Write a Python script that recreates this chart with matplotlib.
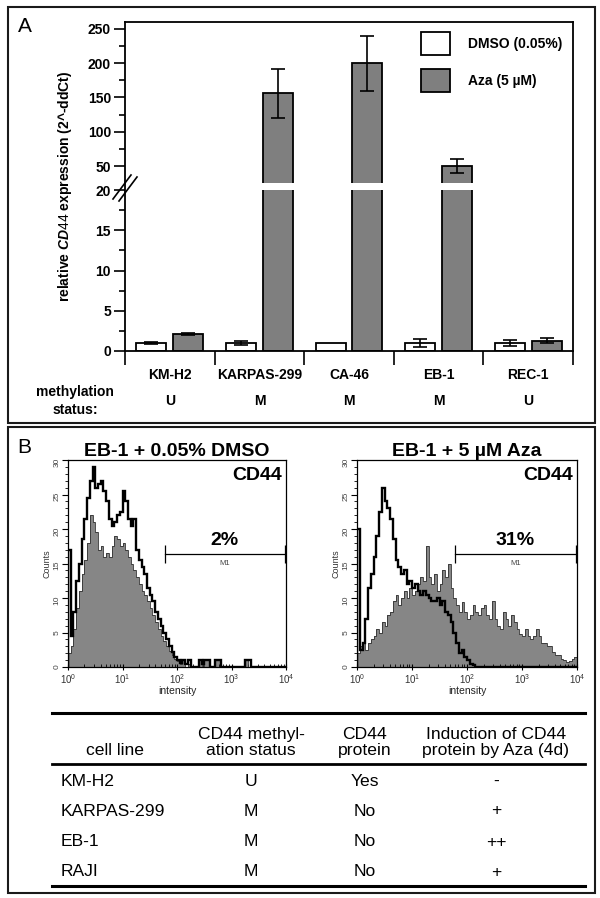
import numpy as np
import matplotlib
matplotlib.use('Agg')
import matplotlib.pyplot as plt
from matplotlib.patches import Rectangle
from matplotlib.lines import Line2D
import matplotlib.transforms as mtransforms

plt.rcParams['font.family'] = ['Liberation Sans', 'DejaVu Sans']
plt.rcParams['mathtext.fontset'] = 'custom'
plt.rcParams['mathtext.rm'] = 'Liberation Sans'
plt.rcParams['mathtext.it'] = 'Liberation Sans:italic:bold'
plt.rcParams['mathtext.bf'] = 'Liberation Sans:bold'

# ---------------- Panel A data ----------------
cell_lines = ['KM-H2', 'KARPAS-299', 'CA-46', 'EB-1', 'REC-1']
methylation = ['U', 'M', 'M', 'M', 'U']
dmso_vals = [1.0, 1.0, 1.0, 1.0, 1.0]
dmso_err = [0.08, 0.2, 0.0, 0.5, 0.4]
aza_vals = [2.1, 156, 200, 50, 1.3]
aza_err = [0.15, 36, 40, 10, 0.3]
series_labels = ['DMSO (0.05%)', 'Aza (5 µM)']
y_major = [0, 5, 10, 15, 20, 50, 100, 150, 200, 250]
y_minor = [2.5, 7.5, 12.5, 17.5, 75, 125, 175, 225]

# ---------------- Panel B data (flow cytometry histograms) ----------------
# counts per channel group, 20 groups per decade from 10^0 to 10^4
dmso_stained = [2, 3, 5.5, 8.5, 11, 13.5, 15.5, 18, 22, 21,
                19.5, 17, 17.5, 16, 16.5, 16, 17.5, 19, 18.5, 17.5,
                18, 17, 16, 15, 14, 13, 12, 11, 10.5, 9.5,
                8.5, 7.5, 6.5, 5.5, 4.5, 3.8, 3, 2.3, 1.7, 1.2,
                0.8, 0.5, 1, 0, 0.5, 0, 0, 0, 1, 0,
                1, 1, 0, 0, 1, 1, 0, 0, 0, 0,
                0, 0, 0, 0, 0, 1, 0, 0, 0, 0,
                0, 0, 0, 0, 0, 0, 0, 0, 0, 0]
dmso_control = [17, 4.5, 8, 12.5, 15, 18.5, 21.5, 24.5, 27, 29,
                26, 26.5, 27, 25.5, 24, 21.5, 20.5, 21, 22, 22.5,
                25.5, 24, 21.5, 20.5, 21.5, 17, 15.5, 14.5, 13.5, 11.5,
                10.5, 9.5, 8, 7, 6, 5, 4, 3, 2.2, 1.5,
                1, 0.6, 1, 0.5, 1, 0, 0, 0, 1, 0.5,
                1, 1, 0, 0, 1, 1, 0, 0, 0, 0,
                0, 0, 0, 0, 0, 1, 1, 0, 0, 0,
                0, 0, 0, 0, 0, 0, 0, 0, 0, 0]
aza_stained = [2, 3, 3.5, 2.5, 3.5, 4, 4.5, 5.5, 5, 6.5,
               6, 7.5, 8, 9.5, 10.5, 9, 10, 11, 10, 11.5,
               10.5, 11, 12, 13, 12.5, 17.5, 13, 12, 13.5, 11,
               12, 14, 13, 15, 11.5, 10, 9, 8, 9.4, 8,
               7, 7.5, 9, 8, 7.5, 8.5, 9, 7.5, 7, 9.5,
               7, 6, 5.5, 8, 7, 6, 7.5, 6.5, 5.5, 4.8,
               4.5, 5.5, 4.5, 4, 4.5, 5.5, 4.5, 3.5, 3.5, 3,
               3, 2.2, 1.8, 1.8, 1.2, 1, 0.7, 0.8, 1.2, 1.5]
aza_control = [20, 2.5, 3.5, 7, 11.5, 13.5, 16, 19, 22.5, 26,
               24, 23, 21.5, 18.5, 15.5, 14.5, 13.5, 14, 12, 12.5,
               11.5, 12, 11, 10.5, 11, 10.5, 10, 9.5, 9.5, 10,
               9, 9.5, 8, 7.5, 6.5, 5, 3.5, 2, 2.5, 1.5,
               1, 0.5, 0.3, 0, 0, 0, 0, 0, 0, 0,
               0, 0, 0, 0, 0, 0, 0, 0, 0, 0,
               0, 0, 0, 0, 0, 0, 0, 0, 0, 0,
               0, 0, 0, 0, 0, 0, 0, 0, 0, 0]
hist_titles = ['EB-1 + 0.05% DMSO', 'EB-1 + 5 µM Aza']
m1_gate = [60, 9500]
m1_percent = ['2%', '31%']

# ---------------- Table data ----------------
tab_header = ['cell line', 'CD44 methyl-\nation status', 'CD44\nprotein',
              'Induction of CD44\nprotein by Aza (4d)']
tab_cells = ['KM-H2', 'KARPAS-299', 'EB-1', 'RAJI']
tab_meth = ['U', 'M', 'M', 'M']
tab_protein = ['Yes', 'No', 'No', 'No']
tab_induction = ['-', '+', '++', '+']

# ---------------- figure ----------------
W, H = 600, 898
fig = plt.figure(figsize=(W / 100, H / 100), dpi=100)


def fx(x):
    return x / W


def fy(y):
    return 1 - y / H


def px_rect(x0, y0, x1, y1):
    return [x0 / W, 1 - y1 / H, (x1 - x0) / W, (y1 - y0) / H]


for (x0, y0, x1, y1) in [(8, 7, 595, 423), (8, 427, 595, 893)]:
    fig.add_artist(Rectangle((fx(x0), fy(y1)), (x1 - x0) / W, (y1 - y0) / H,
                             transform=fig.transFigure, fill=False, lw=1.5,
                             ec='#1a1a1a'))

fig.text(fx(25), fy(27), 'A', fontsize=15, ha='center', va='center')
fig.text(fx(24), fy(447), 'B', fontsize=15, ha='center', va='center')

# ---------------- Panel A ----------------
axA = fig.add_axes(px_rect(125, 22, 573, 351))

_bx = np.array([-1000., 0., 20., 25., 10000.])
_bu = np.array([-1000., 0., 20., 20.85, 20.85 + (10000 - 25) * 0.0853])


def fwd(v):
    return np.interp(v, _bx, _bu)


def inv(u):
    return np.interp(u, _bu, _bx)


axA.set_yscale('function', functions=(fwd, inv))
axA.set_ylim(0, 260)
axA.set_xlim(-0.5, len(cell_lines) - 0.5)

x = np.arange(len(cell_lines))
bw, off = 0.335, 0.206
axA.bar(x - off, dmso_vals, bw, color='white', edgecolor='black', lw=1.3,
        zorder=2, label=series_labels[0])
axA.bar(x + off, aza_vals, bw, color='#7f7f7f', edgecolor='black', lw=1.3,
        zorder=2, label=series_labels[1])
for xs, vals, errs in [(x - off, dmso_vals, dmso_err), (x + off, aza_vals, aza_err)]:
    errs = np.asarray(errs)
    m = errs > 0
    axA.errorbar(np.asarray(xs)[m], np.asarray(vals)[m], yerr=errs[m], fmt='none',
                 ecolor='black', elinewidth=1.2, capsize=5, capthick=1.2, zorder=3)

# axis break band across bars
axA.axhspan(20, 25, color='white', zorder=2.2, lw=0)

axA.set_yticks(y_major)
axA.set_yticklabels([str(t) for t in y_major], fontweight='bold', fontsize=10)
axA.set_yticks(y_minor, minor=True)
axA.tick_params(axis='y', which='major', length=8, width=1.2, direction='out', pad=2)
axA.tick_params(axis='y', which='minor', length=4.5, width=1.2, direction='out')

axA.set_xticks(np.arange(-0.5, len(cell_lines), 1.0))
axA.set_xticklabels([])
axA.set_xticks(x, minor=True)
axA.set_xticklabels(cell_lines, minor=True, fontweight='bold', fontsize=10)
axA.tick_params(axis='x', which='major', length=10, width=1.2, direction='out')
axA.tick_params(axis='x', which='minor', length=0, pad=12)
for s in axA.spines.values():
    s.set_linewidth(1.3)

axA.set_ylabel(r'relative $\mathit{CD44}$ expression (2^-ddCt)', fontweight='bold',
               fontsize=10)
axA.yaxis.set_label_coords((74 - 125) / 448, 0.5)

leg = axA.legend(loc='upper left', bbox_to_anchor=((420.7 - 125) / 448, (351 - 32) / 329),
                 frameon=False, prop=dict(weight='bold', size=10),
                 handlelength=2.1, handleheight=2.17, handletextpad=1.3,
                 labelspacing=1.03, borderpad=0, borderaxespad=0)

# break marks on the y axis
for (xa, ya, xb, yb) in [(113, 199, 131, 175), (119, 201, 137, 177)]:
    fig.add_artist(Line2D([fx(xa), fx(xb)], [fy(ya), fy(yb)], lw=1.2, color='black',
                          transform=fig.transFigure))

fig.text(fx(75), fy(392), 'methylation', fontweight='bold', fontsize=10,
         ha='center', va='center')
fig.text(fx(75), fy(410), 'status:', fontweight='bold', fontsize=10,
         ha='center', va='center')
trA = mtransforms.blended_transform_factory(axA.transData, fig.transFigure)
for xi, m in zip(x, methylation):
    axA.text(xi, fy(401), m, transform=trA, ha='center', va='center',
             fontweight='bold', fontsize=10)

# ---------------- Panel B histograms ----------------
edges = np.logspace(0, 4, len(dmso_stained) + 1)
hist_axes = [fig.add_axes(px_rect(68, 460, 286, 667)),
             fig.add_axes(px_rect(357, 460, 577, 667))]
for ax, stained, control, title, pct in zip(hist_axes, [dmso_stained, aza_stained],
                                            [dmso_control, aza_control], hist_titles,
                                            m1_percent):
    ax.stairs(stained, edges, fill=True, color='#868686', zorder=1)
    ax.stairs(stained, edges, color='#303030', lw=0.6, zorder=2)
    ax.stairs(control, edges, color='black', lw=1.7, zorder=3)
    ax.set_xscale('log')
    ax.set_xlim(1, 1e4)
    ax.set_ylim(0, 30)
    ax.set_yticks(np.arange(0, 31, 5))
    ax.set_yticks(np.arange(0, 31, 1), minor=True)
    ax.tick_params(axis='y', which='major', length=4, width=0.8, labelsize=6,
                   labelcolor='#444444', labelrotation=90, pad=1.5)
    ax.tick_params(axis='y', which='minor', length=2, width=0.6)
    ax.tick_params(axis='x', which='major', length=4, width=0.8, labelsize=7,
                   labelcolor='#333333', pad=1.5, direction='inout')
    ax.tick_params(axis='x', which='minor', length=2.5, width=0.6, direction='in')
    for s in ax.spines.values():
        s.set_linewidth(0.9)
    ax.set_ylabel('Counts', fontsize=6.5, color='#333333', labelpad=1)
    ax.set_xlabel('intensity', fontsize=7.5, color='#222222', labelpad=0)
    ax.set_title(title, fontweight='bold', fontsize=14, pad=3)
    ax.text(0.98, 0.927, 'CD44', transform=ax.transAxes, ha='right', va='center',
            fontweight='bold', fontsize=14)
    ax.plot(m1_gate, [16.4, 16.4], color='black', lw=0.9)
    ax.vlines(m1_gate, 15.1, 17.7, color='black', lw=0.9)
    gm = np.sqrt(m1_gate[0] * m1_gate[1])
    ax.text(gm, 18.4, pct, ha='center', va='center', fontweight='bold', fontsize=14)
    ax.text(gm, 15.0, 'M1', ha='center', va='center', fontsize=5.5, color='#444444')

# ---------------- Table ----------------
tx0, tx1 = 52, 585
for yy, lw in [(713, 2.2), (764, 2.0), (886, 2.2)]:
    fig.add_artist(Line2D([fx(tx0), fx(tx1)], [fy(yy), fy(yy)], lw=lw, color='black',
                          transform=fig.transFigure))
col_x = [115, 251, 365, 496]
for cx, hdr in zip(col_x, tab_header):
    fig.text(fx(cx), fy(758), hdr, ha='center', va='bottom', fontsize=12.6,
             linespacing=1.1)
row_y = [781, 811, 842, 872]
for ry, c, mth, p, ind in zip(row_y, tab_cells, tab_meth, tab_protein, tab_induction):
    fig.text(fx(61), fy(ry), c, ha='left', va='center', fontsize=12.6)
    fig.text(fx(col_x[1]), fy(ry), mth, ha='center', va='center', fontsize=12.6)
    fig.text(fx(col_x[2]), fy(ry), p, ha='center', va='center', fontsize=12.6)
    fig.text(fx(col_x[3]), fy(ry), ind, ha='center', va='center', fontsize=12.6)

fig.savefig('out.png', dpi=100)
